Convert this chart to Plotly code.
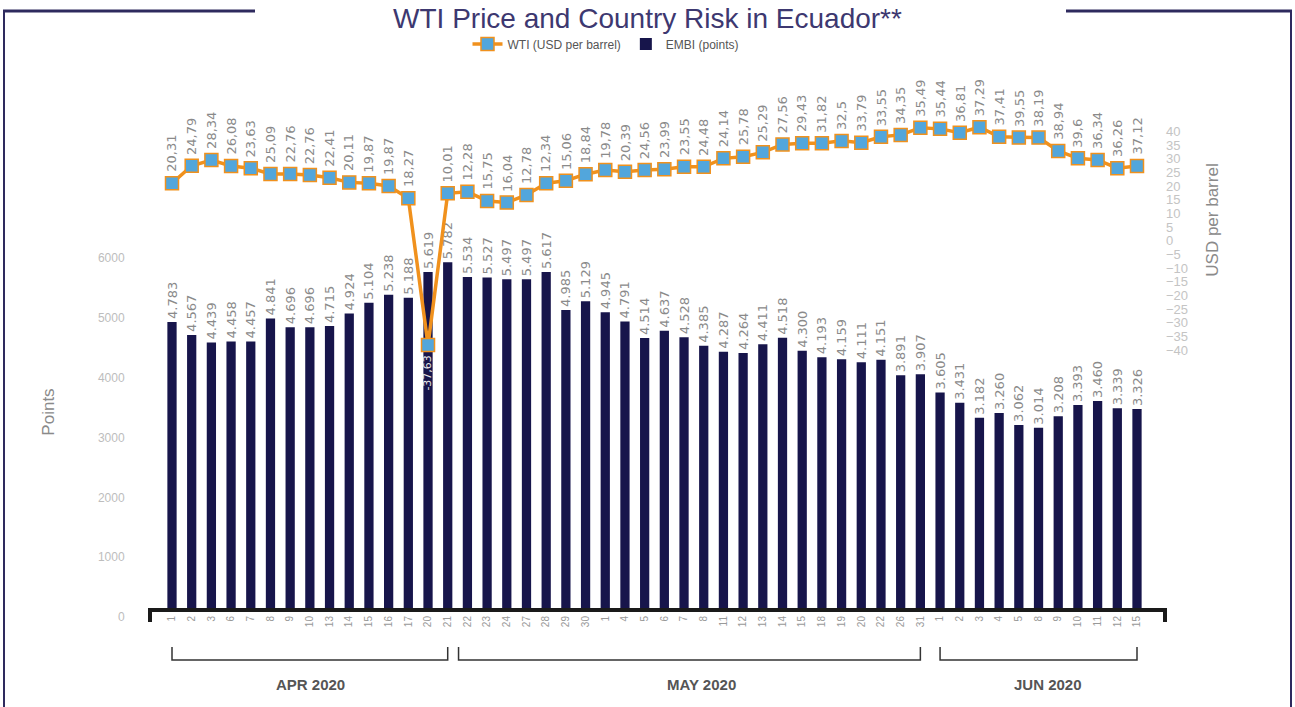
import plotly.graph_objects as go

# ---------------- data ----------------
dates = [
    "2020-04-01", "2020-04-02", "2020-04-03", "2020-04-06", "2020-04-07", "2020-04-08",
    "2020-04-09", "2020-04-10", "2020-04-13", "2020-04-14", "2020-04-15", "2020-04-16",
    "2020-04-17", "2020-04-20", "2020-04-21", "2020-04-22", "2020-04-23", "2020-04-24",
    "2020-04-27", "2020-04-28", "2020-04-29", "2020-04-30",
    "2020-05-01", "2020-05-04", "2020-05-05", "2020-05-06", "2020-05-07", "2020-05-08",
    "2020-05-11", "2020-05-12", "2020-05-13", "2020-05-14", "2020-05-15", "2020-05-18",
    "2020-05-19", "2020-05-20", "2020-05-22", "2020-05-26", "2020-05-31",
    "2020-06-01", "2020-06-02", "2020-06-03", "2020-06-04", "2020-06-05", "2020-06-08",
    "2020-06-09", "2020-06-10", "2020-06-11", "2020-06-12", "2020-06-15",
]
day_labels = [str(int(d[-2:])) for d in dates]

embi_points = [
    4783, 4567, 4439, 4458, 4457, 4841, 4696, 4696, 4715, 4924,
    5104, 5238, 5188, 5619, 5782, 5534, 5527, 5497, 5497, 5617,
    4985, 5129, 4945, 4791, 4514, 4637, 4528, 4385, 4287, 4264,
    4411, 4518, 4300, 4193, 4159, 4111, 4151, 3891, 3907, 3605,
    3431, 3182, 3260, 3062, 3014, 3208, 3393, 3460, 3339, 3326,
]

# WTI values as printed in the labels
wti_usd = [
    20.31, 24.79, 28.34, 26.08, 23.63, 25.09, 22.76, 22.76, 22.41, 20.11,
    19.87, 19.87, 18.27, -37.63, 10.01, 12.28, 15.75, 16.04, 12.78, 12.34,
    15.06, 18.84, 19.78, 20.39, 24.56, 23.99, 23.55, 24.48, 24.14, 25.78,
    25.29, 27.56, 29.43, 31.82, 32.5, 33.79, 33.55, 34.35, 35.49, 35.44,
    36.81, 37.29, 37.41, 39.55, 38.19, 38.94, 39.6, 36.34, 36.26, 37.12,
]
# WTI markers as they are drawn against the right-hand axis
wti_plotted = [
    21.1, 27.5, 29.6, 27.4, 26.6, 24.5, 24.5, 24.1, 23.1, 21.4,
    21.1, 20.1, 15.6, -38.2, 17.4, 18.0, 14.6, 14.0, 16.8, 21.1,
    22.0, 24.4, 25.9, 25.3, 25.9, 26.2, 27.1, 27.1, 30.2, 30.8,
    32.4, 35.3, 35.7, 35.7, 36.6, 35.9, 38.1, 38.8, 41.4, 41.0,
    39.6, 41.6, 38.1, 37.8, 37.8, 32.9, 30.2, 29.6, 26.6, 27.4,
]

left_ticks = [0, 1000, 2000, 3000, 4000, 5000, 6000]
right_ticks = list(range(-40, 45, 5))

months = ["APR 2020", "MAY 2020", "JUN 2020"]
month_from = [0, 14.55, 39]
month_to = [14, 38, 49]
month_label_at = [7.05, 26.9, 44.5]

# ---------------- layout helpers (pixels -> paper) ----------------
W, H = 1295, 707
ML, MR, MT, MB = 150, 130, 50, 99
PW, PH = W - ML - MR, H - MT - MB
PLOT_BOTTOM = H - MB


def px_x(px):
    return (px - ML) / PW


def px_y(py):
    return (PLOT_BOTTOM - py) / PH


idx = list(range(len(dates)))

# left axis: 0 at plot bottom, 59.8 px per 1000 points, domain top at 216 px
left_top_px = 216
left_range_top = (PLOT_BOTTOM - left_top_px) / 59.8 * 1000
# right axis: zero at 240.8 px, 2.73 px per dollar, domain 60..380 px
r_zero, r_scale = 240.8, 2.73
r_top_px, r_bot_px = 60, 380
right_range = [-(r_bot_px - r_zero) / r_scale, (r_zero - r_top_px) / r_scale]

# x: first category at 172 px, last at 1137 px
slot = (1137 - 172) / (len(idx) - 1)
x_range = [-(172 - ML) / slot, (len(idx) - 1) + (ML + PW - 1137) / slot]

NAVY = "#17154b"
ORANGE = "#f0911d"
BLUE = "#52a6dc"
FRAME = "#2e2a5e"

fig = go.Figure()

fig.add_trace(go.Bar(
    x=idx, y=embi_points, name="EMBI (points)",
    marker=dict(color=NAVY, line=dict(width=0)),
    text=[f"{v / 1000:.3f}" for v in embi_points],
    textposition="outside", textangle=-90,
    textfont=dict(family="DejaVu Sans", size=13, color="#8a8a8a"),
    constraintext="none", cliponaxis=False,
    xaxis="x", yaxis="y",
))

fig.add_trace(go.Scatter(
    x=idx, y=wti_plotted, name="WTI (USD per barrel)",
    mode="lines+markers",
    line=dict(color=ORANGE, width=3.5),
    marker=dict(symbol="square", size=13, color=BLUE, line=dict(color=ORANGE, width=1.5)),
    cliponaxis=False,
    xaxis="x", yaxis="y2",
))

annotations = []
for i, (v, p) in enumerate(zip(wti_usd, wti_plotted)):
    txt = f"{v:g}".replace(".", ",")
    if v < 0:
        annotations.append(dict(x=i, y=p, xref="x", yref="y2", text=txt, textangle=-90,
                                showarrow=False, yanchor="top", yshift=-9,
                                font=dict(family="DejaVu Sans", size=11, color="#e6e6e6")))
    else:
        annotations.append(dict(x=i, y=p, xref="x", yref="y2", text=txt, textangle=-90,
                                showarrow=False, yanchor="bottom", yshift=9,
                                font=dict(family="DejaVu Sans", size=13, color="#8a8a8a")))

for name, pos in zip(months, month_label_at):
    annotations.append(dict(x=pos, y=px_y(684), xref="x", yref="paper", text=f"<b>{name}</b>",
                            showarrow=False, yanchor="middle",
                            font=dict(family="Liberation Sans, Arial, sans-serif",
                                      size=15, color="#555555")))

shapes = []
# month brackets
for a, b in zip(month_from, month_to):
    shapes.append(dict(type="path", xref="x", yref="paper",
                       path=f"M {a},{px_y(647)} L {a},{px_y(660)} L {b},{px_y(660)} L {b},{px_y(647)}",
                       line=dict(color="#333333", width=1.5)))
# axis end caps
shapes.append(dict(type="line", xref="paper", yref="paper", x0=0, x1=0, y0=0, y1=px_y(622),
                   line=dict(color="#1a1a1a", width=4)))
shapes.append(dict(type="line", xref="paper", yref="paper", x0=1, x1=1, y0=0, y1=px_y(622),
                   line=dict(color="#1a1a1a", width=4)))
# frame
fy = px_y(11)
shapes += [
    dict(type="line", xref="paper", yref="paper", x0=px_x(4), x1=px_x(4), y0=fy, y1=px_y(H + 5),
         line=dict(color=FRAME, width=2)),
    dict(type="line", xref="paper", yref="paper", x0=px_x(3), x1=px_x(255), y0=fy, y1=fy,
         line=dict(color=FRAME, width=3)),
    dict(type="line", xref="paper", yref="paper", x0=px_x(1066), x1=px_x(1292), y0=fy, y1=fy,
         line=dict(color=FRAME, width=3)),
    dict(type="line", xref="paper", yref="paper", x0=px_x(1291), x1=px_x(1291), y0=fy, y1=px_y(H + 5),
         line=dict(color=FRAME, width=2)),
]

fig.update_layout(
    template="none",
    width=W, height=H,
    margin=dict(l=ML, r=MR, t=MT, b=MB, pad=0),
    paper_bgcolor="white", plot_bgcolor="rgba(0,0,0,0)",
    font=dict(family="Liberation Sans, Arial, sans-serif", color="#777777"),
    title=dict(text="WTI Price and Country Risk in Ecuador**", x=0.5, xanchor="center",
               y=1 - 18 / H, yanchor="middle", yref="container",
               font=dict(family="Liberation Sans, Arial, sans-serif", size=28, color="#3d3870")),
    bargap=0.53,
    showlegend=True,
    legend=dict(orientation="h", x=px_x(606), y=px_y(44), xanchor="center", yanchor="middle",
                traceorder="reversed", font=dict(size=12, color="#555555"), bgcolor="rgba(0,0,0,0)"),
    xaxis=dict(range=x_range, tickmode="array", tickvals=idx, ticktext=day_labels, tickangle=-90,
               tickfont=dict(size=10, color="#999999"), showgrid=False, zeroline=False,
               showline=True, linecolor="#1a1a1a", linewidth=4, ticks="", anchor="y",
               automargin=False),
    yaxis=dict(domain=[0, px_y(left_top_px)], range=[0, left_range_top], tickmode="array",
               tickvals=left_ticks, tickfont=dict(size=12, color="#bdbdbd"),
               showgrid=False, zeroline=False, showline=False,
               ticks="outside", ticklen=22, tickcolor="rgba(0,0,0,0)", ticklabelshift=9,
               title=dict(text="Points", standoff=38, font=dict(size=17, color="#8a8a8a")),
               automargin=False),
    yaxis2=dict(domain=[px_y(r_bot_px), px_y(r_top_px)], range=right_range, anchor="x", side="right",
                tickmode="array", tickvals=right_ticks, tickfont=dict(size=13, color="#c4c4c4"),
                showgrid=False, zeroline=False, showline=False, ticks="",
                title=dict(text="USD per barrel", standoff=19, font=dict(size=17, color="#8a8a8a")),
                automargin=False),
    annotations=annotations,
    shapes=shapes,
)

fig.write_html(
    "out.html",
    config={"displayModeBar": False},
    post_script="document.body.style.margin='0';document.body.style.padding='0';"
                "document.body.style.overflow='hidden';",
)
